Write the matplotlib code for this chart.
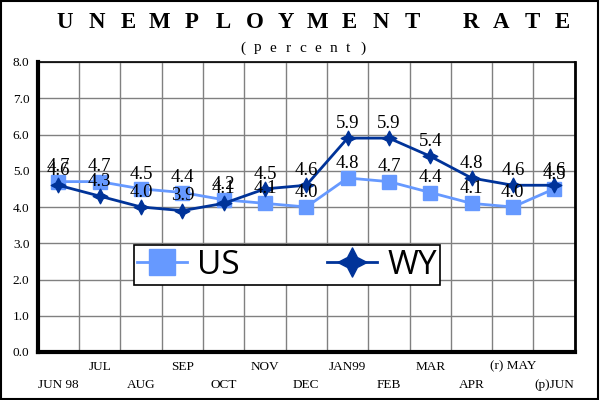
import matplotlib
matplotlib.use("Agg")
import matplotlib.pyplot as plt
from matplotlib.path import Path
import numpy as np

months = ["JUN 98", "JUL", "AUG", "SEP", "OCT", "NOV", "DEC",
          "JAN99", "FEB", "MAR", "APR", "(r) MAY", "(p)JUN"]
us = [4.7, 4.7, 4.5, 4.4, 4.2, 4.1, 4.0, 4.8, 4.7, 4.4, 4.1, 4.0, 4.5]
wy = [4.6, 4.3, 4.0, 3.9, 4.1, 4.5, 4.6, 5.9, 5.9, 5.4, 4.8, 4.6, 4.6]

serif = "Liberation Serif"
x = np.arange(len(months))

# 4-pointed star
r = 0.34
star = Path([(0, 1), (r, r), (1, 0), (r, -r), (0, -1), (-r, -r), (-1, 0), (-r, r), (0, 1)],
            [Path.MOVETO] + [Path.LINETO] * 7 + [Path.CLOSEPOLY])

fig = plt.figure(figsize=(6, 4), dpi=100)
fig.patch.set_facecolor("white")
ax = fig.add_axes([0.063, 0.12, 0.895, 0.725])

# border around the whole picture
fig.add_artist(plt.Rectangle((0.002, 0.003), 0.995, 0.994, transform=fig.transFigure,
                             fill=False, edgecolor="black", lw=1.5))

ax.plot(x, us, color="#6699ff", lw=2, marker="s", ms=9.5, label="US", zorder=3)
ax.plot(x, wy, color="#003399", lw=2, marker=star, ms=10.5, label="WY", zorder=4)

for xi, v in zip(x, us):
    ax.text(xi, v + 0.41, "%.1f" % v, ha="center", va="center", fontsize=13.5,
            family=serif, zorder=5)
for xi, v in zip(x, wy):
    ax.text(xi, v + 0.41, "%.1f" % v, ha="center", va="center", fontsize=13.5,
            family=serif, zorder=5)

ax.set_xlim(-0.5, len(months) - 0.5)
ax.set_ylim(0, 8)
ax.set_yticks(np.arange(0, 8.5, 1.0))
ax.set_yticklabels(["%.1f" % t for t in np.arange(0, 8.5, 1.0)], family=serif, fontsize=9.5)
ax.set_xticks(np.arange(-0.5, len(months), 1.0))
ax.set_xticklabels([])
ax.tick_params(length=0, pad=6)
ax.grid(True, color="#808080", lw=1)
ax.set_axisbelow(True)

# staggered month labels
for i, m in enumerate(months):
    yy = -0.4 if i % 2 == 1 else -0.9
    ax.text(i, yy, m, ha="center", va="center", fontsize=9.5, family=serif,
            clip_on=False)

for s in ["left", "bottom"]:
    ax.spines[s].set_linewidth(3)
ax.spines["right"].set_linewidth(2)
ax.spines["top"].set_linewidth(1.2)

leg = ax.legend(loc="lower left", bbox_to_anchor=(0.179, 0.231, 0.57, 0.166),
                mode="expand", ncol=2, fancybox=False, edgecolor="black",
                framealpha=1, prop={"family": "Open Sans", "size": 24},
                borderaxespad=0, handlelength=1.5, borderpad=0.1,
                columnspacing=2.0, handletextpad=0.3, markerscale=2.0)
leg.get_frame().set_linewidth(1.2)

# letter-spaced title
title1 = "UNEMPLOYMENT"
title2 = "RATE"
for i, ch in enumerate(title1):
    fig.text((65 + i * 31.6) / 600, 0.944, ch, ha="center", va="center",
             fontsize=16.5, fontweight="bold", family=serif)
for i, ch in enumerate(title2):
    fig.text((471 + i * 30.5) / 600, 0.944, ch, ha="center", va="center",
             fontsize=16.5, fontweight="bold", family=serif)
sub = "(percent)"
for i, ch in enumerate(sub):
    fig.text((243 + i * 15) / 600, 0.88, ch, ha="center", va="center",
             fontsize=11, family=serif)

fig.savefig("out.png", dpi=100, facecolor="white")
